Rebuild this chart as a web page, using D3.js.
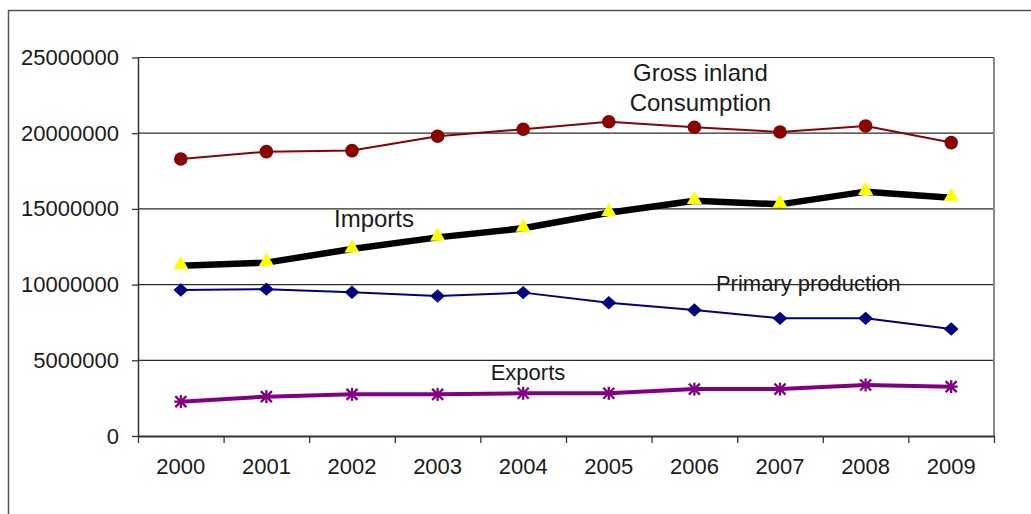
<!DOCTYPE html>
<html>
<head>
<meta charset="utf-8">
<script src="https://cdn.jsdelivr.net/npm/d3@7/dist/d3.min.js"></script>
<style>
  html, body { margin: 0; padding: 0; background: #ffffff; }
  svg { display: block; }
  text { font-family: "Liberation Sans", Arial, sans-serif; fill: #1a1a1a; }
</style>
</head>
<body>
<script>
// Energy balance 2000–2009 (values in toe)
const years = ["2000", "2001", "2002", "2003", "2004", "2005", "2006", "2007", "2008", "2009"];
const grossInland = [18300000, 18780000, 18850000, 19800000, 20260000, 20760000, 20390000, 20080000, 20480000, 19380000];
const imports = [11250000, 11450000, 12350000, 13120000, 13720000, 14750000, 15540000, 15300000, 16140000, 15740000];
const primaryProduction = [9640000, 9700000, 9490000, 9250000, 9470000, 8800000, 8320000, 7770000, 7770000, 7070000];
const exportsSeries = [2270000, 2600000, 2750000, 2750000, 2820000, 2820000, 3100000, 3100000, 3370000, 3260000];
const yTicks = [0, 5000000, 10000000, 15000000, 20000000, 25000000];

const W = 1031, H = 514;
const margin = { left: 138, right: 37, top: 57.5, bottom: 78 };

const svg = d3.select("body").append("svg").attr("width", W).attr("height", H);

// outer frame (runs off the right and bottom edges)
svg.append("path")
  .attr("d", `M8.5,${H + 5} V10.5 H${W + 5}`)
  .attr("fill", "none").attr("stroke", "#555").attr("stroke-width", 1.5);

const x = d3.scaleBand().domain(years).range([margin.left, W - margin.right]).padding(0);
const edge = d3.scaleLinear().domain([0, years.length]).range([margin.left, W - margin.right]);
const y = d3.scaleLinear().domain([0, 25000000]).range([H - margin.bottom, margin.top]);
const cx = d => x(d) + x.bandwidth() / 2;

// horizontal gridlines
svg.append("g").selectAll("line").data(yTicks.filter(v => v > 0)).join("line")
  .attr("x1", margin.left).attr("x2", W - margin.right)
  .attr("y1", d => y(d)).attr("y2", d => y(d))
  .attr("stroke", "#2a2a2a").attr("stroke-width", 1.2);

// right plot border
svg.append("line")
  .attr("x1", W - margin.right).attr("x2", W - margin.right)
  .attr("y1", y(25000000)).attr("y2", y(0))
  .attr("stroke", "#8a8a8a").attr("stroke-width", 2);

// y axis
const yAxis = svg.append("g").attr("transform", `translate(${margin.left},0)`)
  .call(d3.axisLeft(y).tickValues(yTicks).tickFormat(d3.format("d")).tickSize(6).tickSizeOuter(0).tickPadding(13));
yAxis.select(".domain").attr("stroke", "#333").attr("stroke-width", 1.5);
yAxis.selectAll(".tick line").attr("stroke", "#333").attr("stroke-width", 1.3);
yAxis.selectAll("text").attr("font-size", 22).attr("fill", "#1a1a1a")
  .style("font-family", "'Liberation Sans', Arial, sans-serif");

// x axis: tick marks on category boundaries, labels centred in each category
const xTickAxis = svg.append("g").attr("transform", `translate(0,${y(0)})`)
  .call(d3.axisBottom(edge).tickValues(d3.range(years.length + 1)).tickFormat("").tickSize(7).tickSizeOuter(0));
xTickAxis.select(".domain").attr("stroke", "#333").attr("stroke-width", 1.8);
xTickAxis.selectAll(".tick line").attr("stroke", "#333").attr("stroke-width", 1.3);

const xLabelAxis = svg.append("g").attr("transform", `translate(0,${y(0)})`)
  .call(d3.axisBottom(x).tickSize(0).tickPadding(22));
xLabelAxis.select(".domain").remove();
xLabelAxis.selectAll("text").attr("font-size", 22).attr("fill", "#1a1a1a")
  .style("font-family", "'Liberation Sans', Arial, sans-serif");

const line = d3.line().x((d, i) => cx(years[i])).y(d => y(d));

function drawSeries(values, color, width) {
  svg.append("path").datum(values)
    .attr("d", line).attr("fill", "none")
    .attr("stroke", color).attr("stroke-width", width).attr("stroke-linejoin", "round");
}

// Exports: purple with asterisk markers
drawSeries(exportsSeries, "#800080", 4);
const star = svg.append("g").selectAll("g").data(exportsSeries).join("g")
  .attr("transform", (d, i) => `translate(${cx(years[i])},${y(d)})`);
[[-6.5, 0, 6.5, 0], [0, -6.5, 0, 6.5], [-5.5, -5.5, 5.5, 5.5], [-5.5, 5.5, 5.5, -5.5]].forEach(s => {
  star.append("line").attr("x1", s[0]).attr("y1", s[1]).attr("x2", s[2]).attr("y2", s[3])
    .attr("stroke", "#800080").attr("stroke-width", 2.3);
});

// Primary production: navy with diamonds
drawSeries(primaryProduction, "#000080", 2);
svg.append("g").selectAll("path").data(primaryProduction).join("path")
  .attr("d", d3.symbol().type(d3.symbolDiamond2).size(115))
  .attr("transform", (d, i) => `translate(${cx(years[i])},${y(d)}) scale(1.1,1)`)
  .attr("fill", "#000080");

// Imports: thick black line with yellow triangles
drawSeries(imports, "#000000", 6.5);
svg.append("g").selectAll("path").data(imports).join("path")
  .attr("d", d3.symbol().type(d3.symbolTriangle).size(100))
  .attr("transform", (d, i) => `translate(${cx(years[i])},${y(d) - 1})`)
  .attr("fill", "#ffff00");

// Gross inland consumption: dark red with circles
drawSeries(grossInland, "#8b0000", 2);
svg.append("g").selectAll("circle").data(grossInland).join("circle")
  .attr("cx", (d, i) => cx(years[i])).attr("cy", d => y(d)).attr("r", 6.8)
  .attr("fill", "#8b0000");

// series labels
const seriesLabels = [
  { lines: ["Gross inland", "Consumption"], at: 6.57, value: 23450000, size: 24 },
  { lines: ["Imports"], at: 2.757, value: 13800000, size: 24 },
  { lines: ["Primary production"], at: 7.83, value: 9580000, size: 22 },
  { lines: ["Exports"], at: 4.556, value: 3700000, size: 22 }
];
seriesLabels.forEach(l => {
  const t = svg.append("text")
    .attr("x", edge(l.at)).attr("y", y(l.value))
    .attr("text-anchor", "middle").attr("font-size", l.size);
  l.lines.forEach((s, i) => {
    t.append("tspan").attr("x", edge(l.at)).attr("dy", i === 0 ? 0 : 30).text(s);
  });
});
</script>
</body>
</html>
